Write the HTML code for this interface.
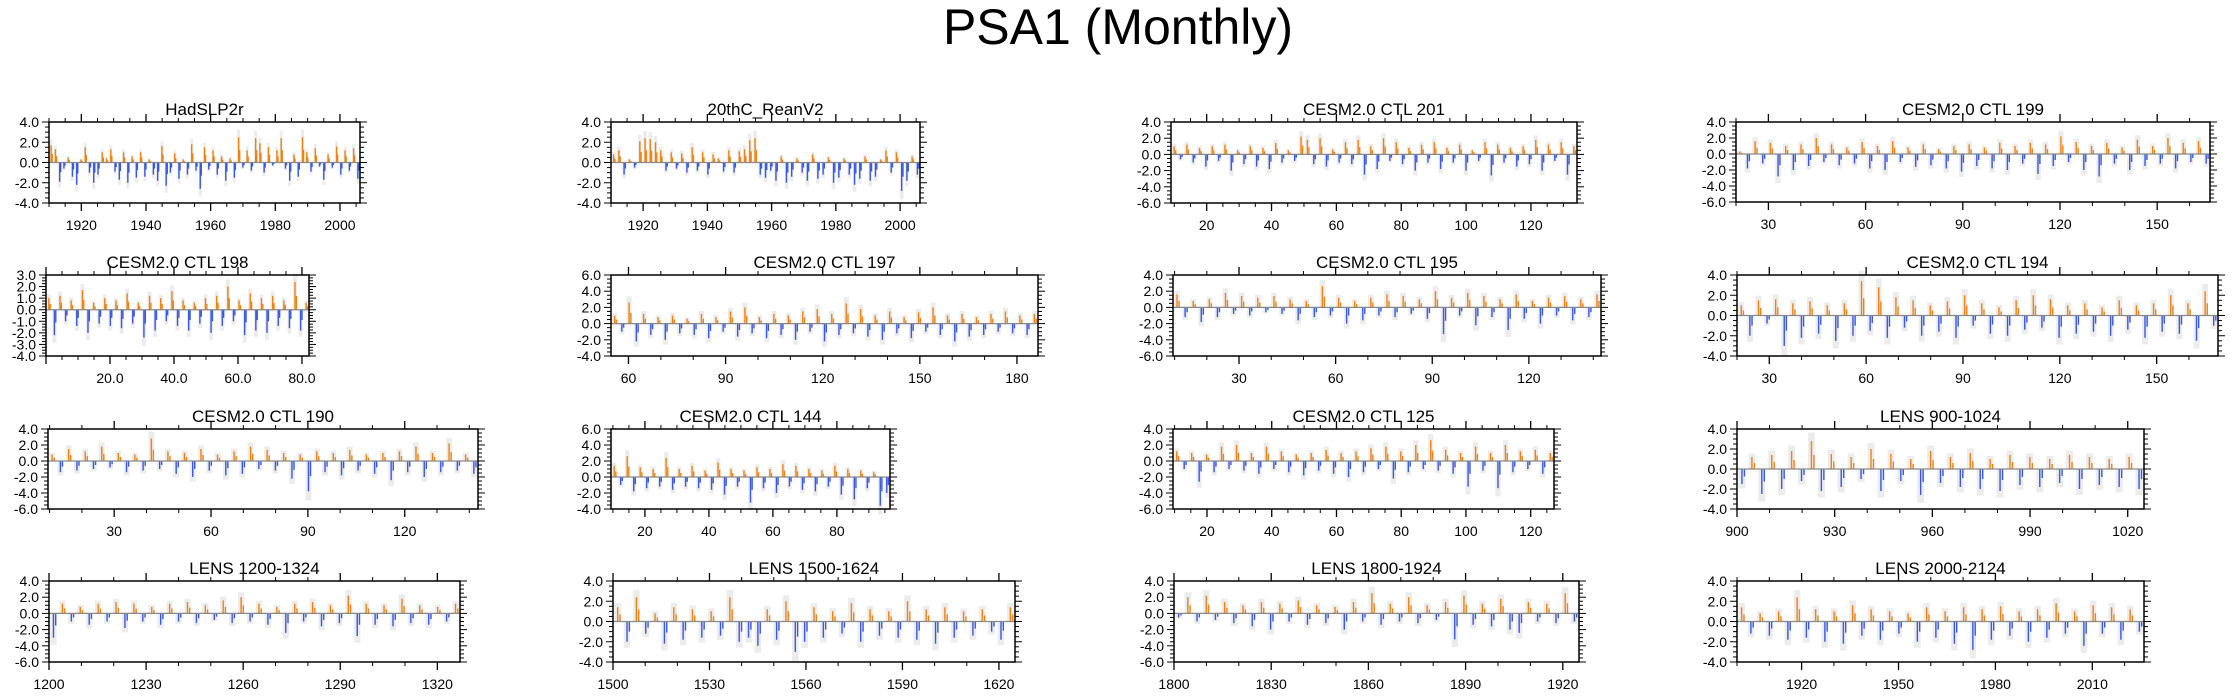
<!DOCTYPE html>
<html><head><meta charset="utf-8"><style>
body{margin:0;background:#fff;width:2237px;height:698px;overflow:hidden}
svg{display:block}
text{font-family:"Liberation Sans",sans-serif;fill:#000}
</style></head><body>
<svg id="chart" width="2237" height="698">
<text x="1118" y="44" font-size="50" text-anchor="middle">PSA1 (Monthly)</text>
</svg>
<script>
// panel titles
const titles=["HadSLP2r","20thC_ReanV2","CESM2.0 CTL 201","CESM2.0 CTL 199","CESM2.0 CTL 198","CESM2.0 CTL 197","CESM2.0 CTL 195","CESM2.0 CTL 194","CESM2.0 CTL 190","CESM2.0 CTL 144","CESM2.0 CTL 125","LENS 900-1024","LENS 1200-1324","LENS 1500-1624","LENS 1800-1924","LENS 2000-2124"];
// x ranges (time units)
const xStart=[1910,1910,9,20,0,54.6,9.5,20,9.5,9.4,9.5,900,1200,1500,1800,1900];
const xEnd=[2006.2,2006.2,134.2,166.3,82.2,186.5,142.4,169,142.7,96.6,127.2,1025,1327,1625,1925,2026];
const xTickLabels=[[1920,1940,1960,1980,2000],[1920,1940,1960,1980,2000],[20,40,60,80,100,120],[30,60,90,120,150],["20.0","40.0","60.0","80.0"],[60,90,120,150,180],[30,60,90,120],[30,60,90,120,150],[30,60,90,120],[20,40,60,80],[20,40,60,80,100,120],[900,930,960,990,1020],[1200,1230,1260,1290,1320],[1500,1530,1560,1590,1620],[1800,1830,1860,1890,1920],[1920,1950,1980,2010]];
const yMax=[4,4,4,4,3,6,4,4,4,6,4,4,4,4,4,4];
const yMin=[-4,-4,-6,-6,-4,-4,-6,-4,-6,-4,-6,-4,-6,-4,-6,-4];
// series values (tenths)
const s0=[17,13,-19,-6,5,-14,-22,3,15,-10,-20,-12,10,4,13,-9,-17,10,-20,6,-15,10,-14,3,-12,-18,16,-23,-10,9,-16,3,-12,18,-8,-26,15,-7,12,-12,6,-18,4,-15,25,-5,12,-8,24,19,-10,15,-3,12,24,-6,-18,8,-14,25,10,-9,14,-4,-17,8,-5,16,-12,12,-8,14,-16];
const s1=[8,12,-12,3,-5,21,24,23,20,12,-8,10,-6,9,-10,15,-8,10,-12,8,4,-9,12,-10,11,13,22,24,-12,-15,-8,-18,6,-20,-14,4,-10,-18,8,-16,-12,5,-20,-15,4,-12,-22,-16,6,-18,-14,3,12,-10,10,-28,-18,6,-12];
const s2=[10,-6,12,-10,8,-15,10,-8,12,-20,5,-12,10,-15,8,-18,14,-10,5,-8,22,18,-12,20,-15,6,-10,15,-12,18,-25,10,-18,20,-8,15,-12,8,-20,12,-10,15,-18,8,-10,12,-20,5,-8,15,-26,12,-10,8,-15,10,-12,18,-20,12,-8,15,-25,10];
const s3=[3,-18,16,-12,14,-28,10,-20,12,-15,20,-10,12,-14,8,-12,15,-18,10,-20,16,-10,8,-16,12,-14,6,-18,10,-22,12,-15,8,-18,14,-20,10,-12,14,-25,12,-15,22,-10,15,-20,10,-28,14,-12,8,-20,18,-15,10,-12,20,-18,14,-10,16,-12];
const s4=[10,-22,12,-10,8,-14,17,-20,6,-12,10,-14,8,-16,14,-12,6,-24,12,-18,10,-10,16,-14,8,-18,6,-12,10,-20,12,-14,20,-10,8,-22,14,-18,10,-20,12,-14,8,-16,24,-18,6];
const s5=[10,-10,26,-22,12,-14,8,-20,10,-12,6,-14,12,-18,8,-10,15,-16,20,-12,8,-18,12,-14,10,-20,15,-10,18,-22,12,-14,25,-12,18,-16,10,-20,15,-12,8,-18,14,-10,20,-14,10,-22,12,-16,8,-14,12,-10,15,-12,10,-14,12];
const s6=[16,-12,8,-18,10,-12,18,-8,14,-10,12,-6,14,-8,10,-16,8,-12,26,-10,12,-20,8,-16,12,-10,16,-12,14,-8,10,-14,20,-33,12,-10,18,-22,14,-12,10,-28,16,-14,8,-20,12,-10,14,-16,10,-12,16];
const s7=[10,-20,15,-8,16,-30,12,-22,14,-18,10,-25,12,-20,34,-15,28,-22,18,-12,15,-20,10,-16,14,-22,20,-10,12,-18,8,-20,15,-14,20,-12,16,-22,10,-18,12,-16,8,-20,15,-14,10,-22,12,-16,20,-18,12,-25,24,-10];
const s8=[8,-14,15,-12,12,-10,18,-8,10,-14,8,-12,28,-10,12,-16,10,-20,15,-12,8,-18,12,-16,18,-10,14,-12,10,-22,8,-38,12,-14,10,-18,14,-12,8,-16,10,-24,12,-14,18,-20,10,-14,22,-12,8,-16];
const s9=[14,-10,26,-18,12,-14,10,-12,24,-16,10,-12,14,-14,8,-16,18,-22,10,-12,8,-32,12,-14,10,-20,16,-12,14,-16,10,-18,8,-12,14,-22,10,-28,8,-14,6,-36,-20];
const s10=[12,-10,10,-26,8,-14,18,-10,20,-12,10,-16,18,-10,12,-14,8,-18,10,-12,14,-16,10,-20,12,-14,16,-10,18,-22,12,-14,20,-10,26,-12,14,-16,10,-32,18,-12,10,-34,20,-14,12,-10,14,-16,10];
const s11=[-15,12,-25,14,-20,18,-12,28,-22,15,-18,12,-10,20,-22,15,-12,10,-26,18,-14,12,-18,16,-20,10,-22,14,-16,12,-18,10,-14,14,-20,12,-16,10,-18,12,-20];
const s12=[-30,12,-10,8,-14,12,-10,14,-18,12,-10,8,-14,12,-10,14,-12,10,-8,16,-12,20,-10,12,-14,8,-24,12,-10,14,-16,10,-12,22,-28,12,-14,10,-16,18,-12,10,-14,8,-10,12];
const s13=[14,-20,24,-12,8,-22,14,-18,12,-16,10,-14,24,-20,-16,-24,12,-18,20,-30,-20,14,-16,10,-12,18,-20,12,-14,10,-16,20,-18,12,-22,14,-16,10,-14,12,-10,-18,14];
const s14=[-5,20,-10,22,-8,14,-12,10,-16,14,-20,12,-10,16,-14,10,-12,8,-20,14,-10,25,-14,12,-10,20,-12,10,-8,14,-32,22,-14,12,-16,18,-20,-24,14,-10,12,-12,25,-10];
const s15=[14,-12,8,-14,10,-18,24,-16,12,-20,10,-22,16,-14,12,-18,10,-12,8,-20,14,-16,10,-22,14,-28,12,-18,15,-14,10,-20,12,-16,18,-12,10,-24,16,-12,14,-18,12,-10];
const series=[s0,s1,s2,s3,s4,s5,s6,s7,s8,s9,s10,s11,s12,s13,s14,s15];

// layout boxes
const boxes=[[49,122,360,203],[611,122,920,203],[1171,122,1577,203],[1736,122,2210,202],
[46,275,309,356],[611,275,1038,356],[1173,275,1601,356],[1737,275,2218,356],
[48,429,478,509],[611,429,890,509],[1173,429,1554,509],[1737,429,2144,509],
[49,581,460,662],[613,581,1015,662],[1174,581,1579,662],[1737,581,2144,662]];

const NS="http://www.w3.org/2000/svg";
const svg=document.getElementById('chart');
function mk(tag,attrs,parent){const e=document.createElementNS(NS,tag);for(const k in attrs)e.setAttribute(k,attrs[k]);(parent||svg).appendChild(e);return e;}

for(let p=0;p<16;p++){
  const [x0,y0,x1,y1]=boxes[p];
  const g=mk('g',{});
  
  
  const xs=v=>x0+(v-xStart[p])/(xEnd[p]-xStart[p])*(x1-x0);
  const ys=v=>y0+(yMax[p]-v)/(yMax[p]-yMin[p])*(y1-y0);
  const t=mk('text',{x:(x0+x1)/2,y:y0-7,'font-size':17,'text-anchor':'middle'},g);
  t.textContent=titles[p];
  
  
  // bars
  const d=series[p],n=d.length,span=xEnd[p]-xStart[p];
  const slot=(x1-x0)/n;
  const bw=1.4;
  for(let i=0;i<n;i++){
    const v=d[i]/10, tc=xStart[p]+(i+0.5)*span/n;
    const cx=xs(tc);
    const gb=mk('rect',{x:cx-slot*0.35,y:Math.min(ys(v*1.3),ys(0)),width:slot*0.7,height:Math.abs(ys(v*1.3)-ys(0)),fill:'#ececec'},g);
    
    
    const r=mk('rect',{x:cx-bw/2,y:Math.min(ys(v),ys(0)),width:bw,height:Math.abs(ys(v)-ys(0)),fill:v>=0?'#f08214':'#3a58e0'},g);
    
    
    const r2=mk('rect',{x:cx+slot*0.25-bw/2,y:Math.min(ys(v*0.5),ys(0)),width:bw,height:Math.abs(ys(v*0.5)-ys(0)),fill:v>=0?'#f08214':'#3a58e0'},g);
    
    
  }
  mk('line',{x1:x0,x2:x1,y1:ys(0),y2:ys(0),stroke:'#888','stroke-width':1.2},g);
  const fr=mk('rect',{x:x0,y:y0,width:x1-x0,height:y1-y0,fill:'none',stroke:'#000','stroke-width':1.5},g);
  
  
  const ystep=yMax[p]===3?1:2;
  for(let v=yMin[p];v<=yMax[p]+1e-6;v+=ystep/4){
    const yy=ys(v);const maj=Math.abs(v/ystep-Math.round(v/ystep))<1e-6;const L=maj?7:4;
    mk('line',{x1:x0-L,x2:x0,y1:yy,y2:yy,stroke:'#000','stroke-width':1},g);
    mk('line',{x1:x1,x2:x1+L,y1:yy,y2:yy,stroke:'#000','stroke-width':1},g);
    if(maj){const tl=mk('text',{x:x0-10,y:yy+5,'font-size':14,'text-anchor':'end'},g);tl.textContent=v.toFixed(1);
      
      }
  }
  const labs=xTickLabels[p];const step=parseFloat(labs[1])-parseFloat(labs[0]);
  const minor=step%3===0?step/3:step/4;
  const first=parseFloat(labs[0]);
  for(let v=first-Math.floor((first-xStart[p])/minor)*minor;v<=xEnd[p]+1e-6;v+=minor){
    const xx=xs(v);const maj=Math.abs((v-first)/step-Math.round((v-first)/step))<1e-6;const L=maj?8:4;
    mk('line',{x1:xx,x2:xx,y1:y1,y2:y1+L,stroke:'#000','stroke-width':maj?1.3:1},g);
    mk('line',{x1:xx,x2:xx,y1:y0-L,y2:y0,stroke:'#000','stroke-width':maj?1.3:1},g);
  }
  labs.forEach(l=>{const xx=xs(parseFloat(l));
    const tl=mk('text',{x:xx,y:y1+27,'font-size':14,'text-anchor':'middle'},g);tl.textContent=l;
    
    });
}
</script>
</body></html>
